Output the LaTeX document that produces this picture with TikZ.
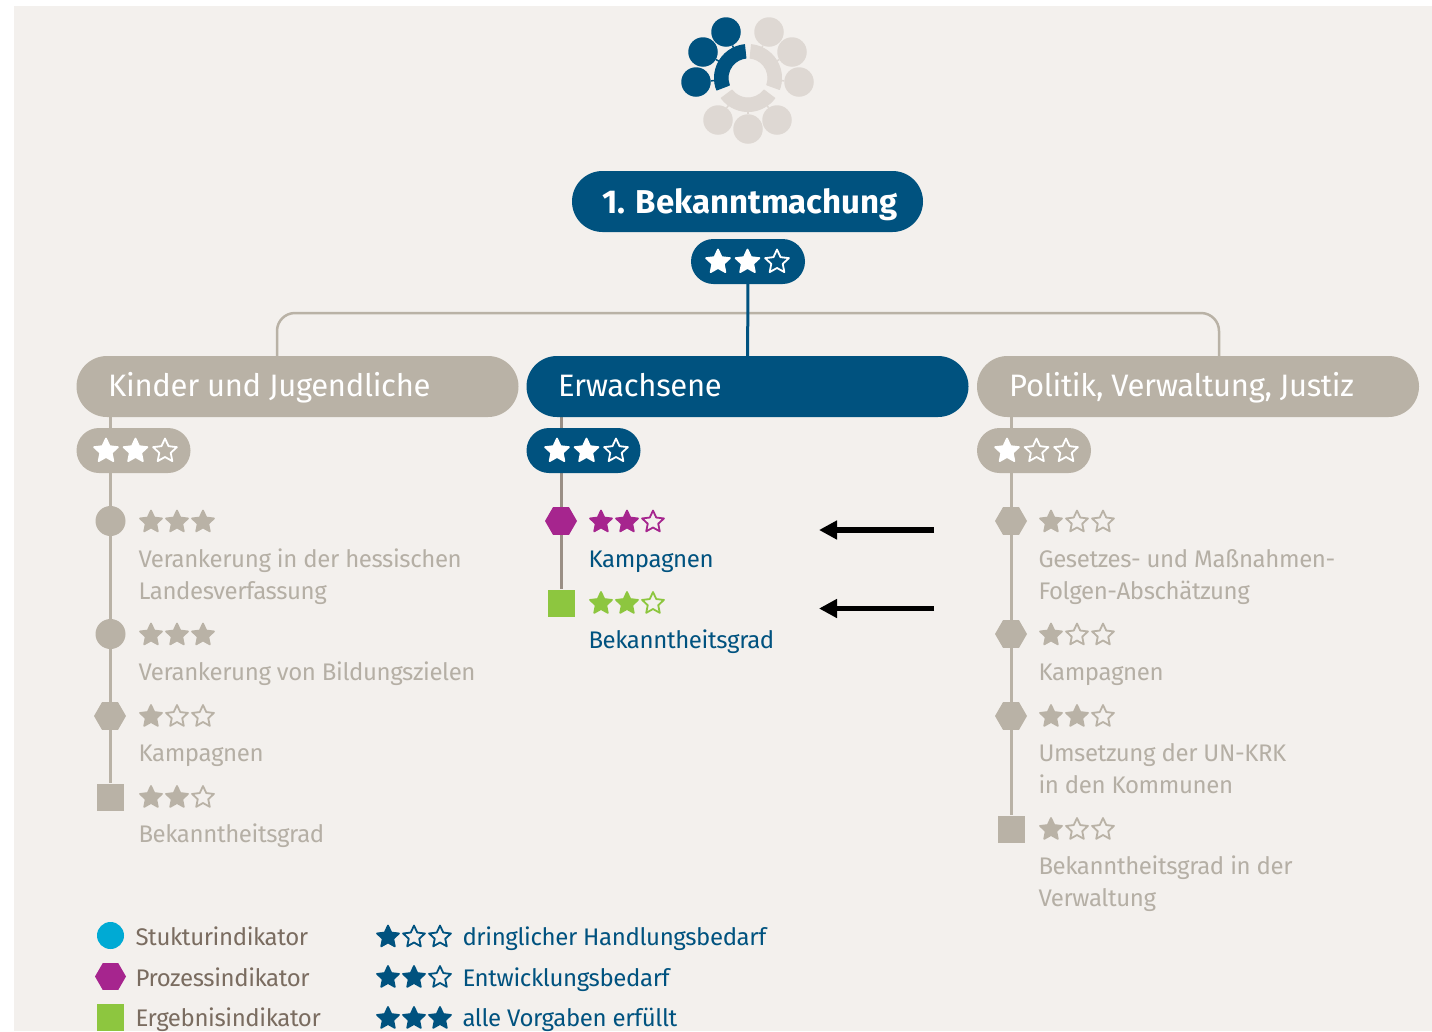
\documentclass[tikz,border=0pt]{standalone}
\usepackage{fontspec}
\setmainfont{Fira Sans}
\usetikzlibrary{shapes.misc,shapes.geometric,arrows.meta,calc,backgrounds}
\definecolor{bgc}{HTML}{F3F0ED}
\definecolor{blue}{HTML}{00527F}
\definecolor{taupe}{HTML}{B9B2A6}
\definecolor{pale}{HTML}{DED8D3}
\definecolor{stem}{HTML}{9A8F85}
\definecolor{txtgray}{HTML}{B5AFA5}
\definecolor{legtxt}{HTML}{7A6C60}
\definecolor{purp}{HTML}{A6258E}
\definecolor{grn}{HTML}{8DC63F}
\definecolor{cyn}{HTML}{00AAD4}
\newcommand\starat[5]{% x y radius fill draw
  \path[fill=#4,draw=#5,line width=1.8pt,line join=round,shift={(#1,#2)},scale=#3]
  (0,-1)--(.282,-.388)--(.951,-.309)--(.456,.148)--(.588,.809)--(0,.48)--(-.588,.809)--(-.456,.148)--(-.951,-.309)--(-.282,-.388)--cycle;}
\newcommand\rating[7]{% x y count colour hollowfill spacing radius
  \foreach \i in {0,1,2}{%
    \pgfmathsetmacro\sx{#1+\i*#6}%
    \ifnum\i<#3\relax\starat{\sx}{#2}{#7}{#4}{#4}\else\starat{\sx}{#2}{#7}{#5}{#4}\fi}}
\tikzset{
  pill/.style={rounded rectangle,inner sep=0pt,minimum height=61pt},
  ratepill/.style={rounded rectangle,inner sep=0pt,minimum height=45pt,minimum width=114pt},
  lab/.style={anchor=base west,inner sep=0pt,xshift=-0.7pt,yshift=0.8pt,font=\fontsize{24}{24}\selectfont\addfontfeature{LetterSpace=-1.6}},
  head/.style={anchor=base west,inner sep=0pt,yshift=0.6pt,text=white,font=\fontsize{31}{31}\selectfont\addfontfeature{LetterSpace=-1}},
  hexa/.style={regular polygon,regular polygon sides=6,inner sep=0pt,minimum size=32pt},
  squ/.style={rectangle,inner sep=0pt,minimum size=27pt},
  dot/.style={circle,inner sep=0pt,minimum size=30pt},
  ico/.style={circle,inner sep=0pt,minimum size=29.5pt},
  stub/.style={line width=1.5pt},
  blk/.style={line width=5.2pt,-{Triangle[length=18pt,width=18pt]}}
}
\begin{document}
\begin{tikzpicture}[x=1pt,y=-1pt]
\useasboundingbox (0,0) rectangle (1432,1031);
\clip (0,0) rectangle (1432,1031);

% logo
\coordinate (o) at (748,78);
\foreach \n/\p/\c in {a/{726,32}/blue,b/{703,52}/blue,c/{696,82}/blue,d/{718,120}/pale,e/{748,129}/pale,f/{777,120}/pale,g/{799,82}/pale,h/{792,52}/pale,i/{769,32}/pale}{
  \node[ico,fill=\c] (l\n) at (\p) {};
  \draw[stub,\c] (l\n) -- ($(l\n)!24pt!(o)$);
}
\begin{scope}[shift={(o)},line join=round,line width=1pt]
\filldraw[blue] (96:33.5pt) arc[start angle=96,end angle=201,radius=33.5pt] -- (201:20pt) arc[start angle=201,end angle=96,radius=20pt] -- cycle;
\filldraw[pale] (84:33.5pt) arc[start angle=84,end angle=-20,radius=33.5pt] -- (-20:20pt) arc[start angle=-20,end angle=84,radius=20pt] -- cycle;
\filldraw[pale] (217:33.5pt) arc[start angle=217,end angle=323,radius=33.5pt] -- (323:20pt) arc[start angle=323,end angle=217,radius=20pt] -- cycle;
\end{scope}

% pills
\node[pill,fill=blue,minimum width=351pt] (top) at (747.5,201.5) {};
\node[ratepill,fill=blue] (toprate) at (748,261.5) {};
\node[pill,fill=taupe,minimum width=442pt] (kids) at (297.5,386.5) {};
\node[pill,fill=blue,minimum width=442pt] (adult) at (747.5,386.5) {};
\node[pill,fill=taupe,minimum width=442pt] (pol) at (1198,386.5) {};
\node[ratepill,fill=taupe] (krate) at (133.5,450.5) {};
\node[ratepill,fill=blue] (arate) at (583.5,450.5) {};
\node[ratepill,fill=taupe] (prate) at (1034,450.5) {};

% indicators
\node[dot,fill=taupe] (k1) at (110.5,521) {};
\node[dot,fill=taupe] (k2) at (110.5,634) {};
\node[hexa,fill=taupe] (k3) at (110,716) {};
\node[squ,fill=taupe] (k4) at (110.5,797) {};
\node[hexa,fill=purp] (a1) at (561,521) {};
\node[squ,fill=grn] (a2) at (561,603) {};
\node[hexa,fill=taupe] (p1) at (1011,521) {};
\node[hexa,fill=taupe] (p2) at (1011,634) {};
\node[hexa,fill=taupe] (p3) at (1011,716) {};
\node[squ,fill=taupe] (p4) at (1011.5,829) {};

% connectors and paper, behind everything
\coordinate (ka) at (110.5,417);
\coordinate (aa) at (561,417);
\coordinate (pa) at (1011.5,417);
\coordinate (kt) at (277,356);
\coordinate (pt) at (1219,356);
\begin{scope}[on background layer]
\fill[bgc] (14,6) rectangle (1432,1031);
\draw[taupe,line width=2.5pt,rounded corners=18pt] (kt) -- (277,313) -- (1219,313) -- (pt);
\draw[blue,line width=3pt] (toprate) -- (adult);
\draw[taupe,line width=3pt] (ka) -- (k4);
\draw[stem,line width=3pt] (aa) -- (a2);
\draw[taupe,line width=3pt] (pa) -- (p4);
\end{scope}

% titles
\node[anchor=base,inner sep=0pt,text=white,font=\fontsize{33}{33}\selectfont\bfseries] (toptxt) at (750,213) {1. Bekanntmachung};
\node[head] (t1) at (108,397) {Kinder und Jugendliche};
\node[head] (t2) at (558,397) {Erwachsene};
\node[head] (t3) at (1009,397) {Politik, Verwaltung, Justiz};

% stars in pills
\rating{718}{262}{2}{white}{blue}{29.5}{12.5}
\rating{106}{451}{2}{white}{taupe}{29.5}{12.5}
\rating{557}{451}{2}{white}{blue}{29.5}{12.5}
\rating{1007}{451}{1}{white}{taupe}{29.5}{12.5}

% left column
\rating{151}{522}{3}{taupe}{bgc}{26}{11.5}
\rating{151}{635}{3}{taupe}{bgc}{26}{11.5}
\rating{151}{716.5}{1}{taupe}{bgc}{26}{11.5}
\rating{151}{797.5}{2}{taupe}{bgc}{26}{11.5}
\node[lab,text=txtgray] (kl1) at (139,568) {Verankerung in der hessischen};
\node[lab,text=txtgray] (kl2) at (139,600) {Landesverfassung};
\node[lab,text=txtgray] (kl3) at (139,681) {Verankerung von Bildungszielen};
\node[lab,text=txtgray] (kl4) at (139,762) {Kampagnen};
\node[lab,text=txtgray] (kl5) at (139,843) {Bekanntheitsgrad};

% centre column
\rating{601}{522}{2}{purp}{bgc}{26}{11.5}
\rating{601}{603.5}{2}{grn}{bgc}{26}{11.5}
\node[lab,text=blue] (al1) at (589,568) {Kampagnen};
\node[lab,text=blue] (al2) at (589,649) {Bekanntheitsgrad};

% right column
\rating{1051}{522}{1}{taupe}{bgc}{26}{11.5}
\rating{1051}{635}{1}{taupe}{bgc}{26}{11.5}
\rating{1051}{716.5}{2}{taupe}{bgc}{26}{11.5}
\rating{1051}{829.5}{1}{taupe}{bgc}{26}{11.5}
\node[lab,text=txtgray] (pl1) at (1039,568) {Gesetzes- und Maßnahmen-};
\node[lab,text=txtgray] (pl2) at (1039,600) {Folgen-Abschätzung};
\node[lab,text=txtgray] (pl3) at (1039,681) {Kampagnen};
\node[lab,text=txtgray] (pl4) at (1039,762) {Umsetzung der UN-KRK};
\node[lab,text=txtgray] (pl5) at (1039,794) {in den Kommunen};
\node[lab,text=txtgray] (pl6) at (1039,875) {Bekanntheitsgrad in der};
\node[lab,text=txtgray] (pl7) at (1039,907) {Verwaltung};

% arrows
\coordinate (ar1s) at (934,530);
\coordinate (ar1e) at (819,530);
\coordinate (ar2s) at (934,608.5);
\coordinate (ar2e) at (819,608.5);
\draw[blk] (ar1s) -- (ar1e);
\draw[blk] (ar2s) -- (ar2e);

% legend
\node[circle,inner sep=0pt,minimum size=27pt,fill=cyn] (lc) at (110.5,935.5) {};
\node[hexa,minimum size=31pt,fill=purp] (lh) at (110.5,976.5) {};
\node[squ,fill=grn] (ls) at (110.5,1017.5) {};
\node[lab,text=legtxt] (lt1) at (136,946) {Stukturindikator};
\node[lab,text=legtxt] (lt2) at (136,987) {Prozessindikator};
\node[lab,text=legtxt] (lt3) at (136,1027) {Ergebnisindikator};
\rating{388}{937}{1}{blue}{bgc}{26}{11.5}
\rating{388}{977.5}{2}{blue}{bgc}{26}{11.5}
\rating{388}{1018.5}{3}{blue}{bgc}{26}{11.5}
\node[lab,text=blue] (lr1) at (463,946) {dringlicher Handlungsbedarf};
\node[lab,text=blue] (lr2) at (463,987) {Entwicklungsbedarf};
\node[lab,text=blue] (lr3) at (463,1027) {alle Vorgaben erfüllt};
\end{tikzpicture}
\end{document}
